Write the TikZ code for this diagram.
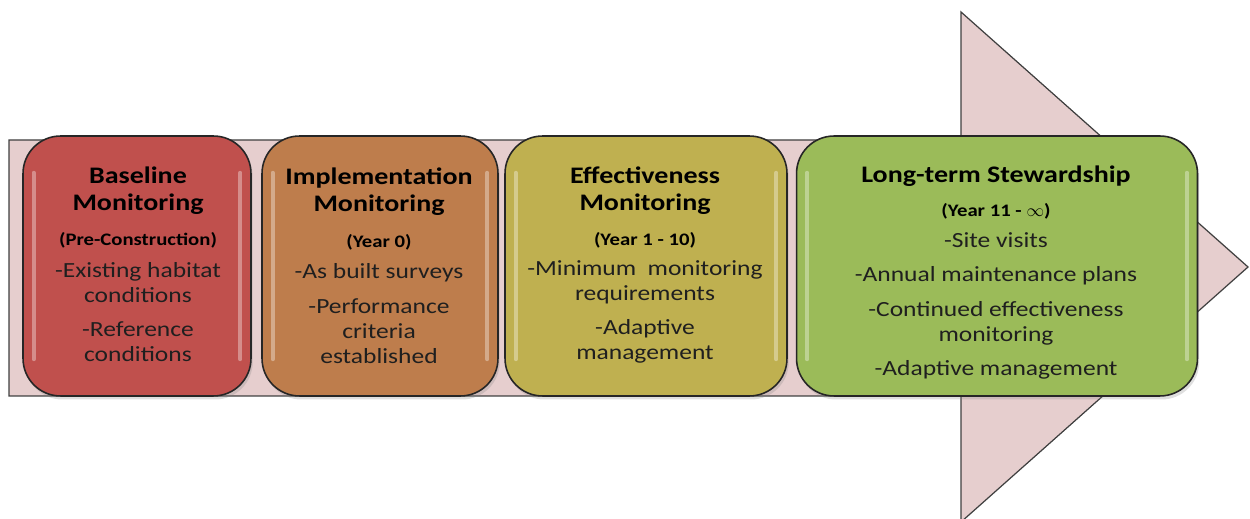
\documentclass[tikz,border=0pt]{standalone}
\usepackage{fontspec}
\setmainfont{Carlito}[FakeStretch=1.18]
\usetikzlibrary{positioning,shadows}

\definecolor{arrowpink}{RGB}{230,206,206}
\definecolor{stagered}{RGB}{192,80,77}
\definecolor{stageorange}{RGB}{190,125,76}
\definecolor{stageolive}{RGB}{191,176,80}
\definecolor{stagegreen}{RGB}{155,187,89}

\tikzset{
  arrowbody/.style={fill=arrowpink, draw=black!75, line width=0.7pt},
  stage/.style={draw=black!85, line width=0.9pt, rounded corners=0.75cm,
    minimum height=5.2cm, inner sep=0pt,
    drop shadow={opacity=0.25, shadow xshift=1pt, shadow yshift=-2pt}},
  heading/.style={font=\fontsize{13.5}{15.3}\selectfont\bfseries, align=center, inner sep=0pt},
  period/.style={font=\fontsize{10}{12}\selectfont\bfseries, inner sep=0pt},
  entry/.style={font=\fontsize{12.3}{14.2}\selectfont, align=center, inner sep=0pt, text=black!88},
  gloss/.style={white, opacity=0.35, line width=2.2pt, line cap=round}
}

\begin{document}
\begin{tikzpicture}[x=0.02cm, y=-0.02cm]
  \useasboundingbox (0,0) rectangle (1250,519);

  % big arrow behind the stages
  \draw[arrowbody] (9,140) -- (961,140) -- (961,12) -- (1248,267)
    -- (961,522) -- (961,396) -- (9,396) -- cycle;

  % stages
  \node[stage, fill=stagered, minimum width=4.56cm] (Baseline) at (137,266) {};
  \node[stage, fill=stageorange, minimum width=4.72cm] (Implementation) at (380,266) {};
  \node[stage, fill=stageolive, minimum width=5.64cm] (Effectiveness) at (646,266) {};
  \node[stage, fill=stagegreen, minimum width=8.02cm] (Stewardship) at (997,266) {};

  \foreach \n in {Baseline,Implementation,Effectiveness,Stewardship} {
    \draw[gloss] ([xshift=6.5pt,yshift=-0.75cm]\n.north west) -- ([xshift=6.5pt,yshift=0.75cm]\n.south west);
    \draw[gloss] ([xshift=-6.5pt,yshift=-0.75cm]\n.north east) -- ([xshift=-6.5pt,yshift=0.75cm]\n.south east);
  }

  % Baseline
  \node[heading] (BaselineTitle) at (138,191) {Baseline\\Monitoring};
  \node[period] (BaselineYear) at (138,240) {(Pre-Construction)};
  \node[entry] (BaselineA) at (138,283) {-Existing habitat\\conditions};
  \node[entry] (BaselineB) at (138,342) {-Reference\\conditions};

  % Implementation
  \node[heading] (ImplementationTitle) at (379,192) {Implementation\\Monitoring};
  \node[period] (ImplementationYear) at (379,242) {(Year 0)};
  \node[entry] (ImplementationA) at (379,273) {-As built surveys};
  \node[entry] (ImplementationB) at (379,331) {-Performance\\criteria\\established};

  % Effectiveness
  \node[heading] (EffectivenessTitle) at (645,191) {Effectiveness\\Monitoring};
  \node[period] (EffectivenessYear) at (645,240) {(Year 1 - 10)};
  \node[entry] (EffectivenessA) at (645,282) {-Minimum\ \ monitoring\\requirements};
  \node[entry] (EffectivenessB) at (645,341) {-Adaptive\\management};

  % Stewardship
  \node[heading] (StewardshipTitle) at (996,176) {Long-term Stewardship};
  \node[period] (StewardshipYear) at (996,211) {(Year 11 - $\infty$)};
  \node[entry] (StewardshipA) at (996,240) {-Site visits};
  \node[entry] (StewardshipB) at (996,276) {-Annual maintenance plans};
  \node[entry] (StewardshipC) at (996,323) {-Continued effectiveness\\monitoring};
  \node[entry] (StewardshipD) at (996,370) {-Adaptive management};
\end{tikzpicture}
\end{document}
